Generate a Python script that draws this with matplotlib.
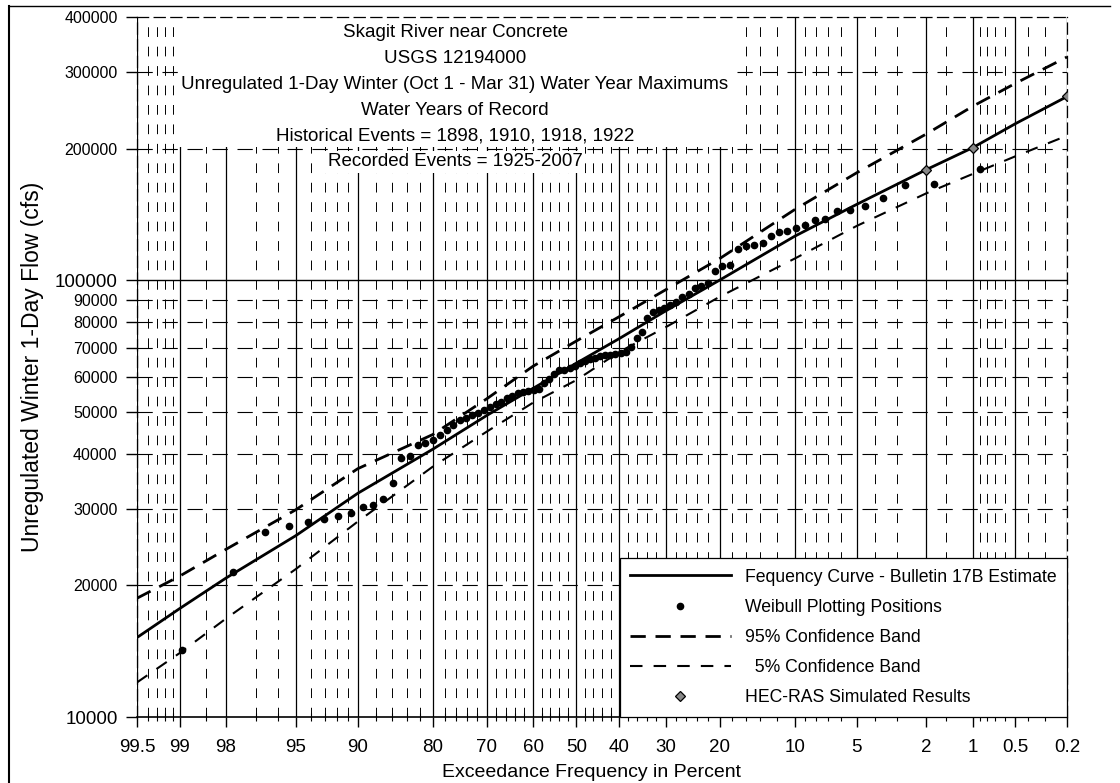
import math
import numpy as np
import matplotlib
matplotlib.use("Agg")
import matplotlib.pyplot as plt
from matplotlib.lines import Line2D
from matplotlib.patches import Rectangle
from matplotlib.ticker import FixedLocator, FixedFormatter, NullLocator

plt.rcParams["font.family"] = ["Liberation Sans", "DejaVu Sans"]
plt.rcParams["lines.scale_dashes"] = False

# axis ticks
x_major = [99.5, 99, 98, 95, 90, 80, 70, 60, 50, 40, 30, 20, 10, 5, 2, 1, 0.5, 0.2]
x_labels = ["99.5", "99", "98", "95", "90", "80", "70", "60", "50", "40", "30",
            "20", "10", "5", "2", "1", "0.5", "0.2"]
x_minor = [99.4, 99.3, 99.2, 99.1, 98.5, 97, 96, 94, 93, 92, 91, 88, 86, 84, 82,
           78, 76, 74, 72, 68, 66, 64, 62, 58, 56, 54, 52, 48, 46, 44, 42,
           38, 36, 34, 32, 28, 26, 24, 22, 18, 16, 14, 12, 9, 8, 7, 6, 4, 3,
           1.5, 0.9, 0.8, 0.7, 0.6, 0.4, 0.3]
y_ticks = [10000, 20000, 30000, 40000, 50000, 60000, 70000, 80000, 90000,
           100000, 200000, 300000, 400000]

# frequency curve and confidence bands
curve_pct = [99.5, 99, 98, 95, 90, 80, 70, 60, 50, 40, 30, 20, 10, 5, 2, 1, 0.5, 0.2]
curve_flow = [15200, 17700, 20800, 26000, 32500, 41000, 49000, 56500, 64500, 73500,
              85000, 100000, 126000, 149000, 179000, 201000, 228000, 263000]
upper_flow = [18700, 21000, 24200, 29800, 37000, 44300, 53500, 63500, 72500, 82500,
              95000, 112000, 145000, 176000, 216000, 250000, 282000, 324000]
lower_flow = [12000, 14000, 16800, 21800, 28000, 37400, 45000, 52400, 59000, 68500,
              78000, 91600, 112000, 133000, 158000, 175000, 192000, 214000]

# Weibull plotting positions (exceedance %) and flows
weibull_pct = [0.90, 1.80, 2.70, 3.60, 4.50, 5.41, 6.31, 7.21, 8.11, 9.01, 9.91,
               10.81, 11.71, 12.61, 13.66, 14.84, 16.03, 17.21, 18.39, 19.58,
               20.76, 21.95, 23.13, 24.32, 25.50, 26.69, 27.87, 29.06, 30.24,
               31.43, 32.61, 33.80, 34.98, 36.17, 37.35, 38.54, 39.72, 40.90,
               42.09, 43.27, 44.46, 45.64, 46.83, 48.01, 49.20, 50.38, 51.57,
               52.75, 53.94, 55.12, 56.31, 57.49, 58.68, 59.86, 61.05, 62.23,
               63.42, 64.60, 65.78, 66.97, 68.15, 69.34, 70.52, 71.71, 72.89,
               74.08, 75.26, 76.45, 77.63, 78.82, 80.00, 81.19, 82.37, 83.56,
               84.74, 85.93, 87.11, 88.30, 89.48, 90.67, 91.85, 93.04, 94.22,
               95.41, 96.59, 97.78, 98.96]
weibull_flow = [180000, 165500, 165000, 154000, 148000, 145000, 144000, 138000,
                137000, 133500, 131500, 129500, 128500, 126000,
                121500, 120500, 119500, 117500, 108000, 107500, 105000, 98500,
                97000, 95800, 93000, 91600, 89200, 87600, 86200, 85400, 84600,
                81700, 76200, 73600, 70400, 68500, 68200,
                67900, 67500, 67200, 66900, 66400, 65900, 65200, 64600, 63600,
                62800, 62400, 62100, 60800, 59500, 58000, 56400, 56000, 55800,
                55500, 55100, 54400, 53600, 52700, 52100, 51200, 50300, 49600,
                49000, 48300, 47900, 46600, 45300, 44100, 43000, 42400, 42000,
                39500, 39100, 34300,
                31500, 30600, 30200, 29300, 28900, 28400, 27900, 27300, 26500,
                21500, 14200]

# HEC-RAS simulated results
hec_pct = [2, 1, 0.2]
hec_flow = [179000, 201000, 264000]

title_lines = ["Skagit River near Concrete",
               "USGS 12194000",
               "Unregulated 1-Day Winter (Oct 1 - Mar 31) Water Year Maximums",
               "Water Years of Record",
               "Historical Events = 1898, 1910, 1918, 1922",
               "Recorded Events = 1925-2007"]


# normal probability scale (no scipy here)
_A = [-3.969683028665376e+01, 2.209460984245205e+02, -2.759285104469687e+02,
      1.383577518672690e+02, -3.066479806614716e+01, 2.506628277459239e+00]
_B = [-5.447609879822406e+01, 1.615858368580409e+02, -1.556989798598866e+02,
      6.680131188771972e+01, -1.328068155288572e+01]
_C = [-7.784894002430293e-03, -3.223964580411365e-01, -2.400758277161838e+00,
      -2.549732539343734e+00, 4.374664141464968e+00, 2.938163982698783e+00]
_D = [7.784695709041462e-03, 3.224671290700398e-01, 2.445134137142996e+00,
      3.754408661907416e+00]


def _ppf(q):
    q = np.asarray(q, dtype=float)
    shape = q.shape
    q = np.atleast_1d(q).ravel()
    z = np.zeros_like(q)
    lo = q < 0.02425
    hi = q > 1 - 0.02425
    mid = ~(lo | hi)
    if lo.any():
        t = np.sqrt(-2 * np.log(q[lo]))
        z[lo] = ((((((_C[0] * t + _C[1]) * t + _C[2]) * t + _C[3]) * t + _C[4]) * t + _C[5])
                 / ((((_D[0] * t + _D[1]) * t + _D[2]) * t + _D[3]) * t + 1))
    if hi.any():
        t = np.sqrt(-2 * np.log(1 - q[hi]))
        z[hi] = -((((((_C[0] * t + _C[1]) * t + _C[2]) * t + _C[3]) * t + _C[4]) * t + _C[5])
                  / ((((_D[0] * t + _D[1]) * t + _D[2]) * t + _D[3]) * t + 1))
    if mid.any():
        r = q[mid] - 0.5
        s = r * r
        z[mid] = ((((((_A[0] * s + _A[1]) * s + _A[2]) * s + _A[3]) * s + _A[4]) * s + _A[5]) * r
                  / (((((_B[0] * s + _B[1]) * s + _B[2]) * s + _B[3]) * s + _B[4]) * s + 1))
    return z.reshape(shape)


_erf = np.vectorize(math.erf)


def prob_fwd(p):
    p = np.asarray(p, dtype=float)
    return _ppf(np.clip(p / 100.0, 1e-9, 1 - 1e-9))


def prob_inv(z):
    z = np.asarray(z, dtype=float)
    return 50.0 * (1.0 + _erf(z / math.sqrt(2.0)))


def main():
    fig = plt.figure(figsize=(11.2, 7.83), dpi=100)
    ax = fig.add_axes([137 / 1120, 1 - 717 / 783, 930 / 1120, 700 / 783])

    ax.set_xscale("function", functions=(prob_fwd, prob_inv))
    ax.set_yscale("log")
    ax.set_xlim(99.5, 0.2)
    ax.set_ylim(10000, 400000)

    # grid, drawn by hand so it looks like the probability paper
    for p in x_minor:
        ax.axvline(p, color="black", lw=0.7, ls=(0, (7, 7)), zorder=1)
    for p in x_major:
        ax.axvline(p, color="black", lw=0.9, zorder=1)
    for v in y_ticks:
        if v == 100000:
            ax.axhline(v, color="black", lw=1.0, zorder=1)
        elif v not in (10000, 400000):
            ax.axhline(v, color="black", lw=0.8, ls=(0, (11, 7)), zorder=1)

    # data
    ax.plot(curve_pct, curve_flow, color="black", lw=2.0, zorder=3,
            label="Fequency Curve - Bulletin 17B Estimate")
    ax.plot(weibull_pct, weibull_flow, ls="none", marker="o", ms=4.5,
            color="black", zorder=4, label="Weibull Plotting Positions")
    up, = ax.plot(curve_pct, upper_flow, color="black", lw=2.0, zorder=3,
                  label="95% Confidence Band")
    up.set_dashes((11, 7))
    low, = ax.plot(curve_pct, lower_flow, color="black", lw=1.5, zorder=3,
                   label="  5% Confidence Band")
    low.set_dashes((9, 8))
    ax.plot(hec_pct, hec_flow, ls="none", marker="D", ms=5, mfc="#888888",
            mec="black", mew=0.9, zorder=5, label="HEC-RAS Simulated Results")

    # ticks
    ax.xaxis.set_major_locator(FixedLocator(x_major))
    ax.xaxis.set_major_formatter(FixedFormatter(x_labels))
    ax.xaxis.set_minor_locator(FixedLocator(x_minor))
    ax.yaxis.set_major_locator(FixedLocator(y_ticks))
    ax.yaxis.set_major_formatter(FixedFormatter([str(v) for v in y_ticks]))
    ax.yaxis.set_minor_locator(NullLocator())
    ax.tick_params(axis="x", which="major", direction="out", length=7, width=1,
                   pad=8.5, labelsize=13.5)
    ax.tick_params(axis="x", which="minor", direction="inout", length=6, width=0.8)
    ax.tick_params(axis="y", which="major", direction="out", length=8, width=1,
                   pad=6, labelsize=11.5)
    for lbl, v in zip(ax.get_yticklabels(), y_ticks):
        if v in (10000, 100000):
            lbl.set_fontsize(13.5)

    for side in ("left", "top", "right"):
        ax.spines[side].set_linestyle((0, (8, 4)))
        ax.spines[side].set_linewidth(0.9)
    ax.spines["bottom"].set_linewidth(1.2)

    ax.set_xlabel("Exceedance Frequency in Percent", fontsize=14)
    ax.xaxis.set_label_coords(0.489, -0.0786)
    ax.xaxis.label.set_va("center")
    ax.set_ylabel("Unregulated Winter 1-Day Flow (cfs)", fontsize=16.5)
    ax.yaxis.set_label_coords(-0.112, 0.5)
    ax.yaxis.label.set_va("center")

    # title block with white background over the grid
    texts = []
    for i, s in enumerate(title_lines):
        y = (717 - 33 - 25.8 * i) / 700
        t = ax.text(0.342, y, s, transform=ax.transAxes, ha="center", va="center",
                    fontsize=13.5, zorder=2.6)
        texts.append(t)
    fig.canvas.draw()
    inv = ax.transAxes.inverted()
    wide = texts[2].get_window_extent()
    (x0, _), (x1, _) = inv.transform([[wide.x0 - 3, 0], [wide.x1 + 4, 0]])
    hb = texts[4].get_window_extent()
    (_, yb), = inv.transform([[0, hb.y0 - 2]])
    ax.add_patch(Rectangle((x0, yb), x1 - x0, 1 - yb, transform=ax.transAxes,
                           facecolor="white", edgecolor="none", zorder=2.5))
    texts[5].set_bbox(dict(facecolor="white", edgecolor="none", pad=2))

    leg = ax.legend(loc="lower right", borderaxespad=0, frameon=True, fancybox=False,
                    edgecolor="black", framealpha=1, fontsize=12.7, handlelength=5.7,
                    handletextpad=0.8, borderpad=0.6, labelspacing=0.75)
    leg.get_frame().set_linewidth(0.9)
    leg.set_zorder(6)

    # page frame of the scanned sheet
    fig.add_artist(Line2D([9 / 1120, 9 / 1120], [0, 1 - 6 / 783],
                          transform=fig.transFigure, color="black", lw=1.5))
    fig.add_artist(Line2D([9 / 1120, 1110 / 1120], [1 - 6 / 783, 1 - 6 / 783],
                          transform=fig.transFigure, color="black", lw=1.0))

    fig.savefig("out.png", dpi=100)


if __name__ == "__main__":
    main()
